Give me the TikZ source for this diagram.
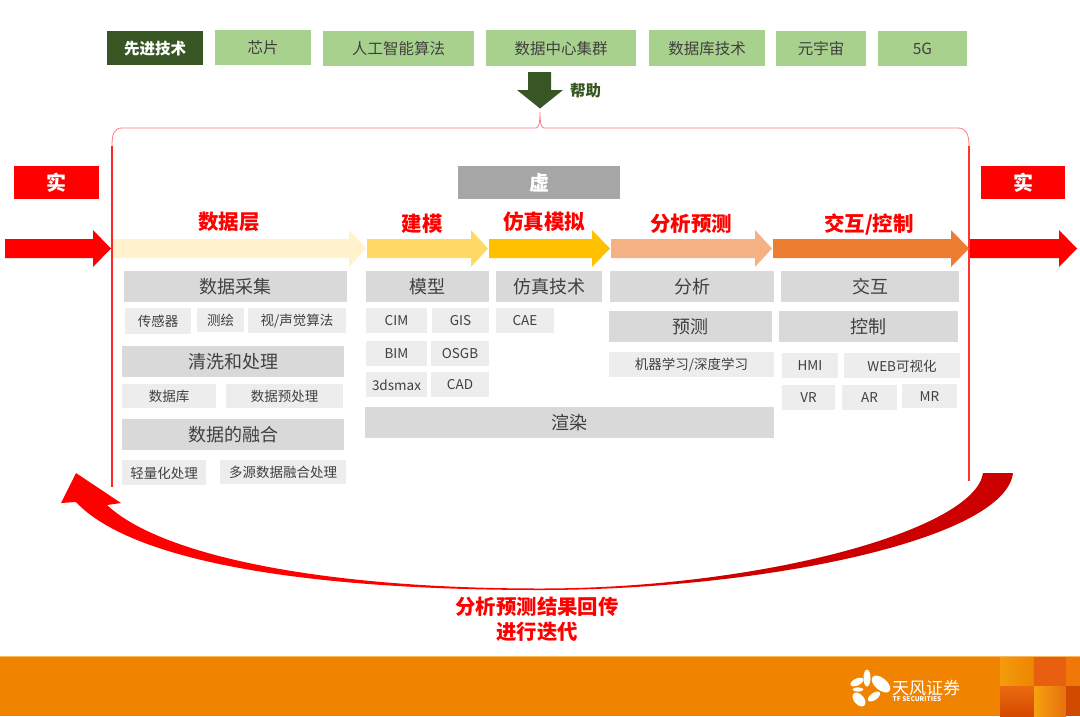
\documentclass[tikz,border=0pt]{standalone}
\usepackage{fontspec}
\setmainfont{Noto Sans CJK SC}
\definecolor{gtop}{HTML}{A9D18E}
\definecolor{gdark}{HTML}{375623}
\definecolor{txt}{HTML}{404040}
\definecolor{big}{HTML}{D9D9D9}
\definecolor{small}{HTML}{EDEDED}
\definecolor{brk}{HTML}{FF7C80}
\definecolor{orng}{HTML}{F08300}
\definecolor{arA}{HTML}{FFF2CC}
\definecolor{arB}{HTML}{FFD966}
\definecolor{arC}{HTML}{FFC000}
\definecolor{arD}{HTML}{F4B183}
\definecolor{arE}{HTML}{ED7D31}
\definecolor{darkred}{HTML}{CC0000}
\definecolor{ftA}{HTML}{F9B860}
\definecolor{ftB}{HTML}{F39C0C}
\definecolor{ftC}{HTML}{EE8400}
\definecolor{ftD}{HTML}{E8600F}
\definecolor{ftE}{HTML}{F07808}
\definecolor{ftF}{HTML}{EB6A10}
\definecolor{ftG}{HTML}{D44A00}
\definecolor{ftH}{HTML}{F5A20E}
\definecolor{ftI}{HTML}{E87010}
\definecolor{ftJ}{HTML}{D04A00}
\pgfdeclarehorizontalshading{retshade}{100bp}{color(0bp)=(red); color(54bp)=(red); color(59bp)=(darkred); color(100bp)=(darkred)}
\newcommand{\fs}[1]{\fontsize{#1}{#1}\selectfont}
\newcommand{\bx}[7]{% name x0 y0 x1 y1 style text
  \path[#6] (#2,#3) rectangle (#4,#5);
  \node[#6,draw=none,fill=none,inner sep=0pt] (#1) at ({(#2+#4)/2},{(#3+#5)/2+0.5}) {#7};}
\newcommand{\blockarrow}[5]{% x0 shaftend tip ycentre colour
  \fill[#5] (#1,#4-9.5) -- (#2,#4-9.5) -- (#2,#4-18.5) -- (#3,#4) -- (#2,#4+18.5) -- (#2,#4+9.5) -- (#1,#4+9.5) -- cycle;}
\tikzset{
  topbox/.style={fill=gtop,text=txt,font=\fs{15.5}},
  headbox/.style={fill=gdark,text=white,font=\fs{15.5}\bfseries},
  bigbox/.style={fill=big,text=txt,font=\fs{18}},
  smallbox/.style={fill=small,text=txt,font=\fs{13.5}},
  redbox/.style={fill=red,text=white,font=\fs{20}\bfseries},
  graybox/.style={fill=black!35,text=white,font=\fs{20}\bfseries},
  stage/.style={text=red,font=\fs{20.5}\bfseries,inner sep=0pt},
  petal/.style={fill=white},
}
\begin{document}
\begin{tikzpicture}[x=1pt,y=-1pt]
\useasboundingbox (0,0) rectangle (1080,716);
\fill[white] (0,0) rectangle (1080,716);

% top row
\bx{adv}{107}{31}{203}{65}{headbox}{先进技术}
\bx{chip}{215}{30}{311}{65}{topbox}{芯片}
\bx{ai}{323}{31}{474}{66}{topbox}{人工智能算法}
\bx{dc}{486}{30}{636}{66}{topbox}{数据中心集群}
\bx{db}{649}{30}{765}{66}{topbox}{数据库技术}
\bx{meta}{776}{31}{866}{66}{topbox}{元宇宙}
\bx{fiveg}{878}{31}{967}{66}{topbox}{5G}

% help arrow
\fill[gdark] (528,72) -- (551,72) -- (551,90) -- (563,90) -- (540,108.5) -- (517,90) -- (528,90) -- cycle;
\node[text=gdark,font=\fs{15.5}\bfseries,inner sep=0pt] (help) at (585.5,90.5) {帮助};

% bracket
\draw[brk,line width=.8pt] (112,146) .. controls (112,134) and (114,128) .. (122,128) -- (536,128) .. controls (539,128) and (540,122) .. (540,112) .. controls (540,122) and (541,128) .. (544,128) -- (958,128) .. controls (966,128) and (969,134) .. (969,146);
\draw[red!85,line width=1.3pt] (112,146) -- (112,487);
\draw[red!80,line width=1.1pt] (969,146) -- (969,481);

% real / virtual
\bx{realL}{14}{166}{99}{199}{redbox}{实}
\bx{realR}{981}{166}{1065}{199}{redbox}{实}
\bx{virt}{458}{166}{620}{199}{graybox}{虚}

% flow arrows
\blockarrow{5}{93}{111}{248.5}{red}
\blockarrow{113}{349}{366}{248.5}{arA}
\blockarrow{367}{471}{488}{248.5}{arB}
\blockarrow{489}{592}{610}{248.5}{arC}
\blockarrow{611}{755}{772}{248.5}{arD}
\blockarrow{773}{951}{969}{248.5}{arE}
\blockarrow{970}{1059}{1077}{248.5}{red}

% stage titles
\node[stage] (s1) at (229,222) {数据层};
\node[stage] (s2) at (422,224) {建模};
\node[stage] (s3) at (544,222) {仿真模拟};
\node[stage] (s4) at (691,224) {分析预测};
\node[stage] (s5) at (869,224) {交互/控制};

% column 1
\bx{a1}{124}{271}{347}{302}{bigbox}{数据采集}
\bx{a2}{125}{308}{191}{334}{smallbox}{传感器}
\bx{a3}{197}{308}{244}{332}{smallbox}{测绘}
\bx{a4}{248}{308}{346}{333}{smallbox}{视/声觉算法}
\bx{a5}{122}{346}{344}{377}{bigbox}{清洗和处理}
\bx{a6}{122}{384}{216}{408}{smallbox}{数据库}
\bx{a7}{226}{384}{343}{408}{smallbox}{数据预处理}
\bx{a8}{122}{419}{344}{450}{bigbox}{数据的融合}
\bx{a9}{122}{460}{206}{485}{smallbox}{轻量化处理}
\bx{a10}{220}{460}{346}{484}{smallbox}{多源数据融合处理}

% column 2
\bx{b1}{366}{271}{489}{302}{bigbox}{模型}
\bx{b2}{366}{308}{427}{333}{smallbox}{CIM}
\bx{b3}{432}{308}{489}{333}{smallbox}{GIS}
\bx{b4}{366}{341}{427}{366}{smallbox}{BIM}
\bx{b5}{431}{341}{489}{366}{smallbox}{OSGB}
\bx{b6}{366}{372}{427}{397}{smallbox}{3dsmax}
\bx{b7}{431}{372}{489}{397}{smallbox}{CAD}
\bx{b8}{365}{407}{774}{438}{bigbox}{渲染}

% column 3
\bx{c1}{496}{271}{602}{302}{bigbox}{仿真技术}
\bx{c2}{496}{308}{554}{333}{smallbox}{CAE}

% column 4
\bx{d1}{610}{271}{774}{302}{bigbox}{分析}
\bx{d2}{609}{311}{772}{342}{bigbox}{预测}
\bx{d3}{609}{352}{774}{377}{smallbox}{机器学习/深度学习}

% column 5
\bx{e1}{781}{271}{959}{302}{bigbox}{交互}
\bx{e2}{779}{311}{958}{342}{bigbox}{控制}
\bx{e3}{782}{353}{838}{378}{smallbox}{HMI}
\bx{e4}{844}{353}{960}{378}{smallbox}{WEB可视化}
\bx{e5}{782}{385}{835}{410}{smallbox}{VR}
\bx{e6}{842}{385}{897}{410}{smallbox}{AR}
\bx{e7}{902}{384}{957}{408}{smallbox}{MR}

% return arrow
\path[shading=retshade]
  (1013,473) .. controls (1005,540) and (760,590) .. (540,590)
  .. controls (300,590) and (130,560) .. (76,502)
  -- (61,503) -- (76,473) -- (121,503) -- (107,505)
  .. controls (160,555) and (320,588.5) .. (540,588.5)
  .. controls (760,588.5) and (975,530) .. (983,473) -- cycle;
\node[text=red,font=\fs{20.4}\bfseries,inner sep=0pt] (ret1) at (537,607) {分析预测结果回传};
\node[text=red,font=\fs{20.4}\bfseries,inner sep=0pt] (ret2) at (537,631.5) {进行迭代};

% footer
\fill[orng] (0,656) rectangle (1080,716);
\draw[ftA,line width=.6pt] (0,656.3) -- (1080,656.3);
\path[left color=ftB,right color=ftC] (1000,657) rectangle (1034,686);
\fill[ftD] (1034,657) rectangle (1066,686);
\fill[ftE] (1066,657) rectangle (1080,686);
\path[top color=ftF,bottom color=ftG] (1000,686) rectangle (1034,716);
\path[left color=ftH,right color=ftI] (1034,686) rectangle (1066,716);
\fill[ftJ] (1066,686) rectangle (1080,716);
\fill[petal] (867,678) ellipse [x radius=3.5,y radius=8.5];
\fill[petal,rotate around={25:(857,682)}] (857,682) ellipse [x radius=7,y radius=3.5];
\fill[petal,rotate around={-40:(881,684)}] (881,684) ellipse [x radius=11,y radius=6];
\fill[petal] (858,689.5) ellipse [x radius=5.5,y radius=2.2];
\fill[petal,rotate around={35:(874,696.5)}] (874,696.5) ellipse [x radius=7,y radius=3.5];
\fill[petal,rotate around={-50:(859,699.5)}] (859,699.5) ellipse [x radius=8,y radius=5];
\node[text=white,font=\fs{17},inner sep=0pt] (lg1) at (926,688) {天风证券};
\node[text=white,font=\fs{6.5}\bfseries,inner sep=0pt] (lg2) at (917,699.5) {TF SECURITIES};
\end{tikzpicture}
\end{document}
